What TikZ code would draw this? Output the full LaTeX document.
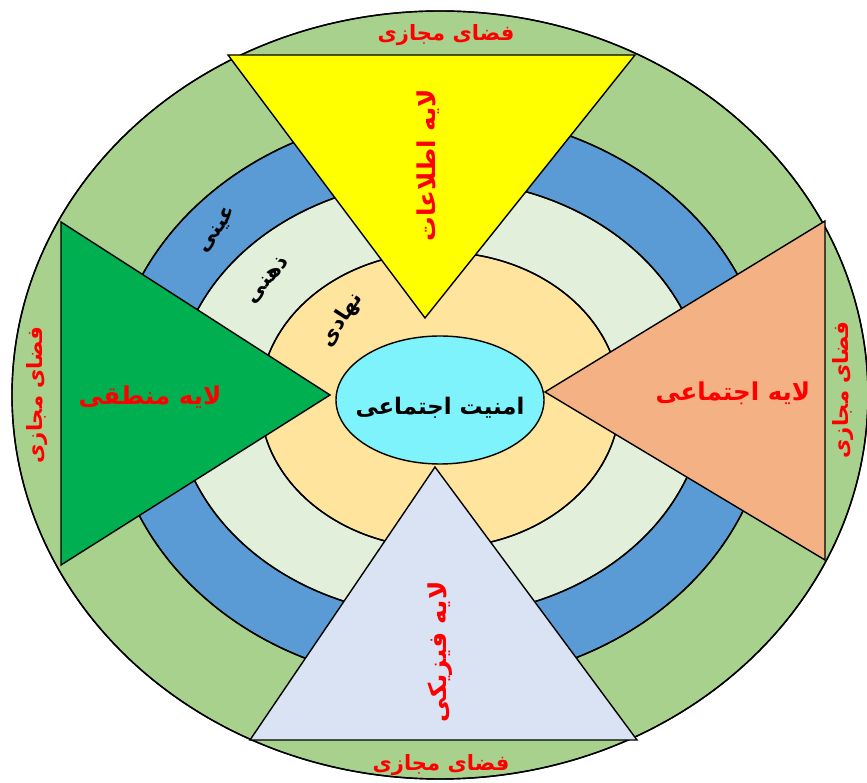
\documentclass[tikz,border=0pt]{standalone}
\usepackage{fontspec}
\usepackage{xcolor}
\usetikzlibrary{positioning}
\newfontfamily\arfont[Script=Arabic]{DejaVu Sans}
\TeXXeTstate=1
\definecolor{cyber}{HTML}{A9D18E}
\definecolor{ringobj}{HTML}{5B9BD5}
\definecolor{ringmind}{HTML}{E2EFDA}
\definecolor{ringinst}{HTML}{FFE49E}
\definecolor{core}{HTML}{7FF3FB}
\definecolor{infolay}{HTML}{FFFF00}
\definecolor{soclay}{HTML}{F4B183}
\definecolor{phylay}{HTML}{DAE3F3}
\definecolor{loglay}{HTML}{00B050}

\begin{document}
\begin{tikzpicture}[x=0.02cm, y=-0.02cm,
  ring/.style={draw=black, line width=0.8pt},
  tri/.style={draw=black, line width=0.8pt, line join=miter},
  redtxt/.style={text=red, font=\arfont\bfseries\fontsize{14}{16}\selectfont, inner sep=0pt},
  sidetxt/.style={text=red, font=\arfont\bfseries\fontsize{12}{14}\selectfont, inner sep=0pt},
  ringtxt/.style={text=black, font=\arfont\bfseries\fontsize{12}{14}\selectfont, inner sep=0pt}
]
  \useasboundingbox (0,0) rectangle (867,783);
  % rings
  \fill[ring, fill=cyber] (440,395) ellipse [x radius=428, y radius=384];
  \fill[ring, fill=ringobj] (440,398) ellipse [x radius=330, y radius=285];
  \fill[ring, fill=ringmind] (440,398) ellipse [x radius=265, y radius=218];
  \fill[ring, fill=ringinst] (440,400) ellipse [x radius=180, y radius=148];
  \draw[ring] (440,395) ellipse [x radius=428, y radius=384];
  \draw[ring] (440,398) ellipse [x radius=330, y radius=285];
  \draw[ring] (440,398) ellipse [x radius=265, y radius=218];
  \draw[ring] (440,400) ellipse [x radius=180, y radius=148];
  % layers
  \filldraw[tri, fill=infolay] (228,55) -- (635,55) -- (425,318) -- cycle;
  \filldraw[tri, fill=soclay] (825,221) -- (825,560) -- (545,392) -- cycle;
  \filldraw[tri, fill=phylay] (250,740) -- (637,740) -- (435,467) -- cycle;
  \filldraw[tri, fill=loglay] (61,222) -- (61,565) -- (330,395) -- cycle;
  % core
  \filldraw[ring, fill=core] (440,400) ellipse [x radius=104, y radius=64];

  \node[ringtxt, font=\arfont\bfseries\fontsize{13}{15}\selectfont] (core) at (440,408) {\beginR امنیت اجتماعی\endR};
  \node[redtxt, rotate=90] (info) at (428,165) {\beginR لایه اطلاعات\endR};
  \node[redtxt] (social) at (733,393) {\beginR لایه اجتماعی\endR};
  \node[redtxt] (logic) at (150,397) {\beginR لایه منطقی\endR};
  \node[redtxt, rotate=90] (phys) at (440,652) {\beginR لایه فیزیکی\endR};

  \node[sidetxt] (cyt) at (446,35) {\beginR فضای مجازی\endR};
  \node[sidetxt] (cyb) at (441,765) {\beginR فضای مجازی\endR};
  \node[sidetxt, rotate=90] (cyl) at (37,395) {\beginR فضای مجازی\endR};
  \node[sidetxt, rotate=90] (cyr) at (843,390) {\beginR فضای مجازی\endR};

  \node[ringtxt, rotate=55] (obj) at (218,230) {\beginR عینی\endR};
  \node[ringtxt, rotate=50] (mind) at (268,280) {\beginR ذهنی\endR};
  \node[ringtxt, rotate=57] (inst) at (342,320) {\beginR نهادی\endR};
\end{tikzpicture}
\end{document}
